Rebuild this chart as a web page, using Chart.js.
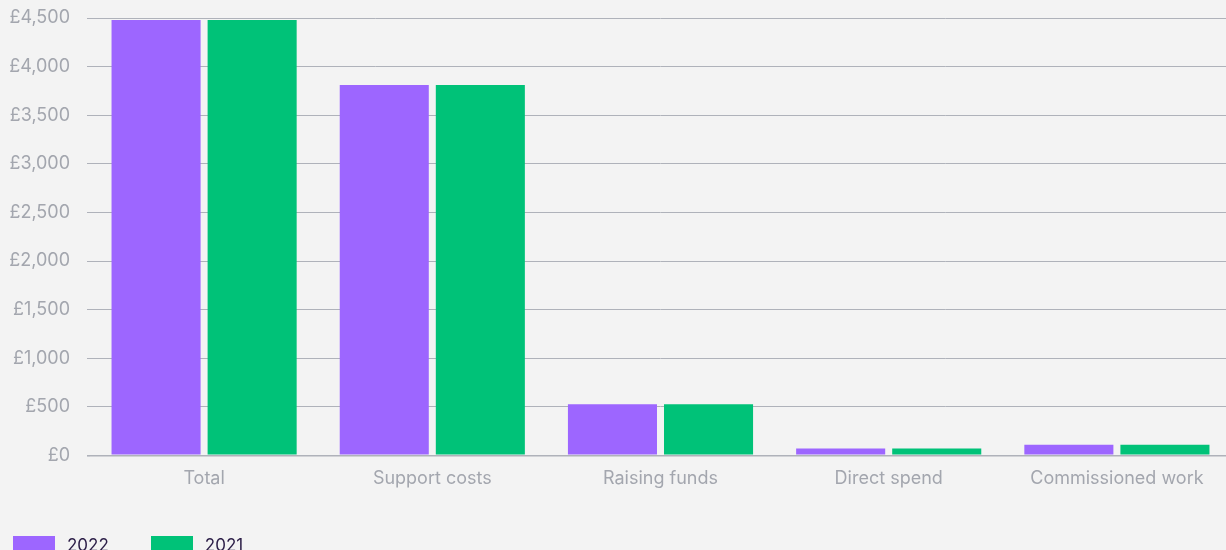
<!DOCTYPE html>
<html>
<head>
<meta charset="utf-8">
<script src="https://cdn.jsdelivr.net/npm/chart.js@4.4.1/dist/chart.umd.min.js"></script>
<style>
  html, body { margin:0; padding:0; background:#f3f3f3; overflow:hidden; }
  #wrap { position:relative; width:1226px; height:550px; overflow:hidden; }
  #c { position:absolute; left:0; top:0; }
  #legend { position:absolute; left:13px; top:536px; display:flex; font-family:Inter, sans-serif; font-size:17px; color:#2a1c46; }
  .item { display:flex; align-items:flex-start; margin-right:42px; }
  .box { width:42px; height:14px; margin-right:12px; }
  .lbl { line-height:14px; margin-top:2px; }
</style>
</head>
<body>
<div id="wrap">
  <canvas id="c" width="1231" height="550"></canvas>
  <div id="legend"></div>
</div>
<script>
const categories = ["Total", "Support costs", "Raising funds", "Direct spend", "Commissioned work"];
const values2022 = [4480, 3810, 525, 70, 110];
const values2021 = [4480, 3810, 525, 70, 110];
const seriesNames = ["2022", "2021"];
const seriesColors = ["#9d66ff", "#00c278"];

const FONT = "Inter, 'Noto Sans', sans-serif";

const chart = new Chart(document.getElementById('c'), {
  type: 'bar',
  data: {
    labels: categories,
    datasets: [
      { label: seriesNames[0], data: values2022, backgroundColor: seriesColors[0], barPercentage: 0.927, categoryPercentage: 0.842 },
      { label: seriesNames[1], data: values2021, backgroundColor: seriesColors[1], barPercentage: 0.927, categoryPercentage: 0.842 }
    ]
  },
  options: {
    responsive: false,
    animation: false,
    layout: { padding: { top: 0, left: 0, right: 0, bottom: 57 } },
    plugins: { legend: { display: false }, tooltip: { enabled: false } },
    scales: {
      x: {
        grid: { display: false },
        border: { display: false },
        ticks: { color: '#a3a6ae', font: { family: FONT, size: 18 }, padding: 4 }
      },
      y: {
        min: 0, max: 4500,
        border: { display: false },
        grid: {
          color: '#afb2ba',
          lineWidth: ctx => ctx.tick && ctx.tick.value === 0 ? 1.6 : 1,
          drawTicks: true, tickLength: 3
        },
        afterFit: s => { s.width = 90; s.paddingTop = 18; s.paddingBottom = 0; },
        ticks: {
          stepSize: 500,
          color: '#a3a6ae',
          padding: 17,
          font: { family: FONT, size: 18 },
          callback: v => '£' + v.toLocaleString('en-GB')
        }
      }
    }
  }
});

const leg = document.getElementById('legend');
seriesNames.forEach((n, i) => {
  const it = document.createElement('div'); it.className = 'item';
  const b = document.createElement('div'); b.className = 'box'; b.style.background = seriesColors[i];
  const t = document.createElement('div'); t.className = 'lbl'; t.textContent = n;
  it.appendChild(b); it.appendChild(t); leg.appendChild(it);
});
</script>
</body>
</html>
